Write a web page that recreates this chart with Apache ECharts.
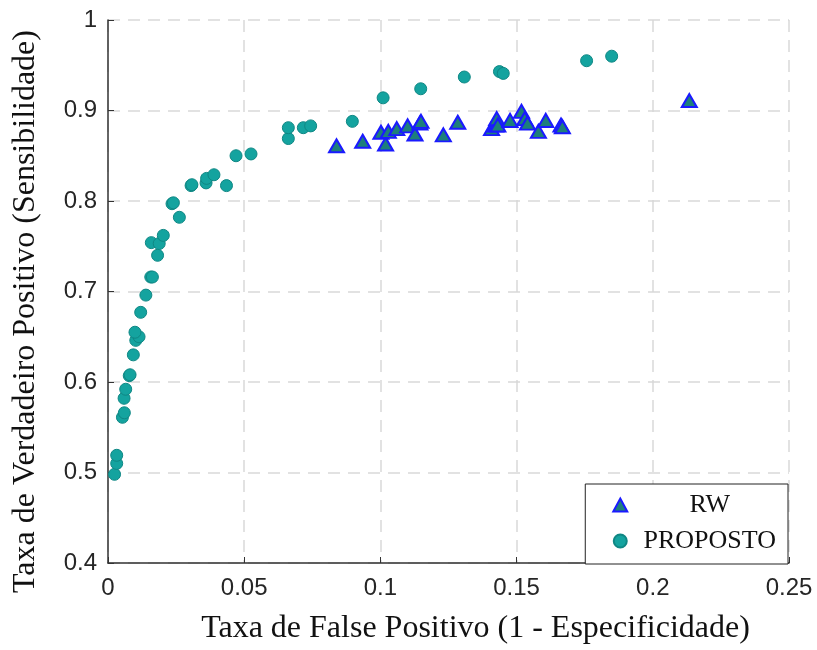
<!DOCTYPE html>
<html>
<head>
<meta charset="utf-8">
<script src="https://cdn.jsdelivr.net/npm/echarts@6/dist/echarts.min.js"></script>
<style>
  html, body { margin: 0; padding: 0; background: #fff; }
  #chart { width: 817px; height: 650px; }
</style>
</head>
<body>
<div id="chart"></div>
<script>
// RW (triangles)
const rwX = [0.0839, 0.0935, 0.1002, 0.1019, 0.1029, 0.106, 0.110, 0.1127, 0.1145, 0.1149,
  0.1231, 0.1284, 0.1408, 0.1423, 0.1427, 0.1431, 0.1476, 0.1518, 0.153, 0.154,
  0.158, 0.1607, 0.1663, 0.1668, 0.2134]
const rwY = [0.861, 0.866, 0.876, 0.863, 0.877, 0.880, 0.883, 0.874, 0.886, 0.888,
  0.873, 0.887, 0.880, 0.884, 0.891, 0.884, 0.889, 0.899, 0.891, 0.886,
  0.877, 0.889, 0.884, 0.882, 0.911]

// PROPOSTO (circles)
const propX = [0.0024, 0.0032, 0.0032, 0.0053, 0.006, 0.0059, 0.0065, 0.0078, 0.0081, 0.0093,
  0.0102, 0.0114, 0.0099, 0.012, 0.0139, 0.0157, 0.0163, 0.0182, 0.0159, 0.0188,
  0.0203, 0.0262, 0.0235, 0.024, 0.0305, 0.0308, 0.036, 0.0362, 0.0389, 0.0435,
  0.047, 0.0525, 0.0662, 0.0662, 0.0717, 0.0744, 0.0897, 0.101, 0.1148, 0.1308,
  0.1437, 0.1451, 0.1757, 0.1849]
const propY = [0.498, 0.510, 0.519, 0.561, 0.566, 0.582, 0.592, 0.607, 0.608, 0.630,
  0.646, 0.650, 0.655, 0.677, 0.696, 0.716, 0.716, 0.740, 0.754, 0.753,
  0.762, 0.782, 0.797, 0.798, 0.817, 0.818, 0.820, 0.825, 0.829, 0.817,
  0.850, 0.852, 0.869, 0.881, 0.881, 0.883, 0.888, 0.914, 0.924, 0.937,
  0.943, 0.941, 0.955, 0.960]

const xTicks = [0, 0.05, 0.1, 0.15, 0.2, 0.25]
const yTicks = [0.4, 0.5, 0.6, 0.7, 0.8, 0.9, 1]

const chart = echarts.init(document.getElementById('chart'))

const gridLine = {
  show: true,
  lineStyle: { color: '#d9d9d9', type: [12, 8], width: 1.5 }
}

const option = {
  animation: false,
  grid: { left: 108, right: 28, top: 20, bottom: 85 },
  legend: {
    orient: 'vertical',
    right: 29,
    bottom: 86,
    backgroundColor: '#fff',
    borderColor: '#222',
    borderWidth: 1,
    padding: [8, 12, 10, 27],
    itemGap: 10,
    itemWidth: 14,
    itemHeight: 13,
    formatter: name => '{t|' + name + '}',
    textStyle: {
      fontFamily: 'Liberation Serif', fontSize: 26, color: '#111',
      rich: { t: { fontFamily: 'Liberation Serif', fontSize: 26, color: '#111', width: 155, align: 'center' } }
    },
    data: ['RW', 'PROPOSTO']
  },
  xAxis: {
    type: 'value',
    min: 0,
    max: 0.25,
    interval: 0.05,
    name: 'Taxa de False Positivo (1 - Especificidade)',
    nameLocation: 'middle',
    nameGap: 50,
    nameTextStyle: { fontFamily: 'Liberation Serif', fontSize: 32, color: '#111', padding: [0, 0, 0, 54] },
    axisLine: { lineStyle: { color: '#333', width: 1.5 } },
    axisTick: { inside: true, length: 6, lineStyle: { color: '#333' } },
    axisLabel: {
      fontFamily: 'Liberation Sans', fontSize: 24, color: '#262626', margin: 13,
      formatter: v => xTicks.includes(+v.toFixed(2)) ? String(+v.toFixed(2)) : ''
    },
    splitLine: gridLine
  },
  yAxis: {
    type: 'value',
    min: 0.4,
    max: 1,
    interval: 0.1,
    name: 'Taxa de Verdadeiro Positivo (Sensibilidade)',
    nameLocation: 'middle',
    nameGap: 66,
    nameTextStyle: { fontFamily: 'Liberation Serif', fontSize: 32, color: '#111', padding: [0, 40, 0, 0] },
    axisLine: { lineStyle: { color: '#333', width: 1.5 } },
    axisTick: { inside: true, length: 6, lineStyle: { color: '#333' } },
    axisLabel: {
      fontFamily: 'Liberation Sans', fontSize: 24, color: '#262626', margin: 11,
      formatter: v => {
        const r = +v.toFixed(1)
        return yTicks.includes(r) ? String(r) : ''
      }
    },
    splitLine: gridLine
  },
  series: [
    {
      name: 'RW',
      type: 'scatter',
      symbol: 'triangle',
      symbolSize: [15, 13],
      itemStyle: { color: '#1d7f7b', borderColor: '#1a1aff', borderWidth: 2, opacity: 1 },
      data: rwX.map((x, i) => [x, rwY[i]]),
      z: 3
    },
    {
      name: 'PROPOSTO',
      type: 'scatter',
      symbol: 'circle',
      symbolSize: 12,
      itemStyle: { color: '#14a39f', borderColor: '#0f8784', borderWidth: 1, opacity: 1 },
      data: propX.map((x, i) => [x, propY[i]]),
      z: 2
    }
  ]
}

chart.setOption(option)
</script>
</body>
</html>
